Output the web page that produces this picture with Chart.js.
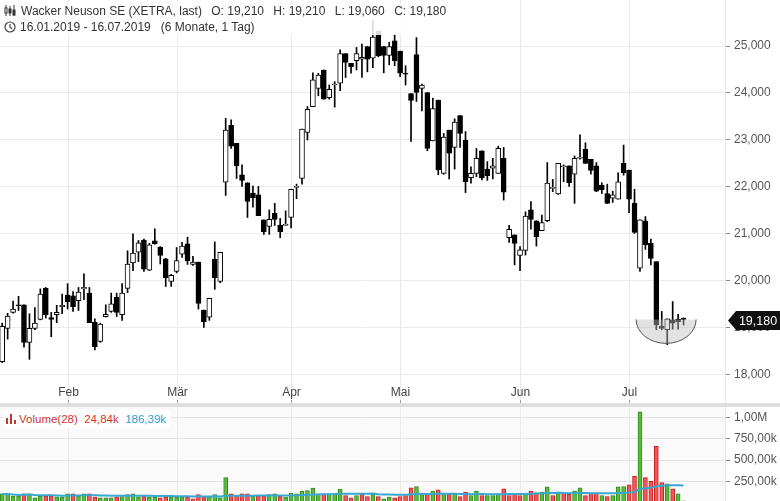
<!DOCTYPE html>
<html><head><meta charset="utf-8">
<script src="https://cdn.jsdelivr.net/npm/chart.js@4.4.1/dist/chart.umd.min.js"></script>
<style>
html,body{margin:0;padding:0;background:#fff;width:780px;height:501px;overflow:hidden;font-family:"Liberation Sans",Arial,sans-serif;}
#pw{position:absolute;left:0;top:0;width:780px;height:403px;}
#sep{position:absolute;left:0;top:403px;width:780px;height:4px;background:#dedede;}
#vw{position:absolute;left:0;top:407px;width:780px;height:96px;}
#hdr{position:absolute;left:4px;top:3px;font-size:12px;color:#333;line-height:16px;background:rgba(255,255,255,0.85);padding-right:4px;}
#hdr span{margin-right:6px}
#vleg{position:absolute;left:4px;top:410px;font-size:11.5px;line-height:18px;background:#fff;padding:0 4px 0 2px;}
#tag{position:absolute;left:728px;top:311px;width:52px;height:19px;}
</style></head><body>
<div id="pw"><canvas id="pc"></canvas></div>
<div id="sep"></div>
<div id="vw"><canvas id="vc"></canvas></div>
<div id="hdr">
<div><svg width="14" height="11" style="vertical-align:-1px;margin-right:3px"><path d="M2 0v11M6 1v10M10 0v11" stroke="#333" stroke-width="1"/><rect x="1" y="3" width="2" height="5" fill="#fff" stroke="#333"/><rect x="5" y="4" width="2" height="4" fill="#333" stroke="#333"/><rect x="9" y="5" width="2" height="5" fill="#333" stroke="#333"/></svg><span>Wacker Neuson SE (XETRA, last)</span> <span>O: 19,210</span> <span>H: 19,210</span> <span>L: 19,060</span> <span>C: 19,180</span></div>
<div><svg width="12" height="12" style="vertical-align:-2px;margin-right:4px"><circle cx="6" cy="6" r="5" fill="none" stroke="#444" stroke-width="1.2"/><path d="M6 3v3.3l2.2 1.5" fill="none" stroke="#444" stroke-width="1.2"/></svg>16.01.2019 - 16.07.2019 &nbsp; (6 Monate, 1 Tag)</div>
</div>
<div id="vleg"><svg width="10" height="10" style="vertical-align:-1px;margin-right:3px"><rect x="0" y="4" width="2" height="6" fill="#c0392b"/><rect x="4" y="0" width="2" height="10" fill="#c0392b"/><rect x="8" y="6" width="2" height="4" fill="#c0392b"/></svg><span style="color:#d0342c">Volume(28) &nbsp;24,84k</span> &nbsp;<span style="color:#2a9fcf">186,39k</span></div>
<svg id="tag" viewBox="0 0 52 19"><path d="M0 9.5L8 0H52V19H8Z" fill="#111"/><text x="30" y="14" fill="#fff" font-size="12.5" text-anchor="middle" font-family="Liberation Sans, Arial">19,180</text></svg>
<script>
const opens=[18280,18990,19330,19490,19490,18690,18990,19180,19840,19220,19280,19450,19700,19680,19580,19830,19740,19120,18710,19240,19350,19650,19280,19840,20380,20610,20870,20230,20850,20720,20470,19990,20200,20570,20790,20350,20400,19380,19230,20460,19990,22100,23310,22930,22260,22090,21870,21830,21300,21160,21440,21190,21180,21350,21990,22180,23160,23710,24100,24490,23900,24170,24210,24840,24630,24690,24720,24990,24740,25320,24990,24800,25110,24890,24420,23990,24820,24100,24010,22980,23850,22290,23210,22840,23520,23000,22200,22290,22770,22380,22400,22290,22610,20920,20980,20540,20650,21510,21280,21070,21280,21970,21850,22430,22450,22270,22610,22800,22590,22450,22040,21860,21760,21740,22500,22360,21650,20270,21280,20800,20410,19030,18960,19170,19180,19210];
const highs=[19100,19310,19570,19670,19490,19300,19430,19830,19860,19330,19480,19720,19940,19770,19860,20150,19860,19190,19100,19490,19740,19740,19940,20640,21000,20860,20890,20800,21110,20730,20480,20140,20710,20820,20930,20520,20400,19380,19630,20830,20610,23460,23430,22930,22470,22090,22020,22010,21300,21510,21650,21330,21490,21950,22060,23230,23710,24430,24420,24490,24170,24240,24920,24840,24630,24970,25040,24990,25540,25320,24990,25080,25260,24890,24580,23990,25180,24190,24010,23890,23850,23140,23210,23450,23520,23180,22430,22820,22770,22540,22610,22870,22840,21180,20980,20730,21470,21690,21280,21400,22520,22160,22500,22470,22450,22660,23110,22940,22590,22520,22090,22060,21910,22300,22890,22360,21950,21300,21370,20890,20410,19350,19190,19560,19290,19210];
const lows=[18260,18760,19310,19370,18590,18330,18960,19170,19210,18810,19110,19300,19400,19350,19370,19600,19110,18530,18690,19230,19330,19240,19160,19750,20220,20410,20200,20220,20780,20360,19880,19880,20170,20500,20350,20330,19400,19010,19160,19820,19960,21820,22820,22180,22010,21350,21570,21390,20990,20990,21180,20920,21180,21130,21750,22060,23000,23710,23940,23870,23870,23700,24050,24330,24420,24490,24330,24450,24540,24770,24430,24600,24580,24350,24170,22970,23820,23620,22770,22980,22260,22270,22170,22380,22840,21880,22080,22220,22150,22140,22170,22290,21720,20820,20340,20220,20550,21100,20740,21070,21260,21900,21840,22110,22010,21650,22590,22500,22270,21900,21860,21650,21670,21740,22250,21450,21010,20200,20670,20340,18960,18960,18640,18970,18970,19060];
const closes=[19030,19250,19400,19470,18690,18990,19100,19720,19280,19180,19330,19480,19550,19450,19760,19860,19110,18600,19080,19290,19510,19330,19740,20360,20590,20810,20250,20770,20790,20540,20070,20120,20430,20740,20430,20400,19520,19130,19630,20070,20610,23210,22870,22450,22140,21690,21770,21390,21050,21310,21310,21050,21190,21950,22010,23230,23650,24280,24380,23870,24080,24190,24840,24650,24560,24840,24760,24720,25190,24790,24800,24990,24690,24420,24400,23840,24010,24170,22820,23670,22360,23060,22720,23380,23140,22110,22290,22610,22190,22240,22450,22820,21890,21100,20800,20660,21380,21310,20940,21240,22080,21990,22500,22440,22090,22610,22630,22500,22350,21910,21940,21650,21830,22110,22300,21740,21030,21300,20770,20480,19060,18990,19190,19100,19130,19180];
const volumesK=[106,106,82,82,106,106,59,82,82,82,70,70,106,106,82,106,106,70,59,59,59,70,76,97,106,70,82,70,70,59,70,70,70,70,70,50,97,70,70,97,59,296,106,82,106,106,82,82,82,97,106,82,70,117,106,135,144,173,106,106,106,106,162,88,61,88,100,76,100,76,49,69,61,76,88,178,193,108,100,139,155,116,100,108,76,127,88,139,88,88,88,108,166,88,108,88,100,139,120,127,190,88,127,116,100,139,178,88,116,116,88,76,88,190,193,213,311,1066,296,253,663,237,225,166,108,25];
const monthIdx=[12,32,53,73,95,115];
const monthNames=['Feb','Mär','Apr','Mai','Jun','Jul'];
const priceTicks=[18000,19000,20000,21000,22000,23000,24000,25000];
const volTicks=[250000,500000,750000,1000000];
const volTickLabels=['250,00k','500,00k','750,00k','1,00M'];
const maPeriod=28;

const XMIN=-0.4, XMAX=132.6;
const wick=[],body=[],bodyCol=[],vol=[],volBg=[],volBd=[],ma=[];
for(let i=0;i<opens.length;i++){
  wick.push({x:i,y:[lows[i],highs[i]]});
  body.push({x:i,y:[opens[i],closes[i]]});
  bodyCol.push(closes[i]>=opens[i]?'#ffffff':'#000000');
  vol.push({x:i,y:volumesK[i]*1000});
  const up=i===0||closes[i]>=closes[i-1];
  volBg.push(up?'#5dbb3a':'#f25757');volBd.push(up?'#2e8b1e':'#c62222');
  let s=0,n=0;for(let j=Math.max(0,i-maPeriod+1);j<=i;j++){s+=volumesK[j]*1000;n++;}
  ma.push({x:i,y:s/n});
}
function fixW(s){s.width=55;s.paddingTop=0;s.paddingBottom=0;}
function xScale(){return {type:'linear',display:false,min:XMIN,max:XMAX,offset:false};}

const bgPlugin={id:'bg',beforeDraw(c,a,o){const ca=c.chartArea,ctx=c.ctx,xs=c.scales.x;ctx.save();ctx.fillStyle=o.color;ctx.fillRect(ca.left,ca.top,ca.right-ca.left,ca.bottom-ca.top);
  ctx.strokeStyle='#ebebeb';ctx.lineWidth=1;monthIdx.forEach(v=>{const px=Math.round(xs.getPixelForValue(v))+0.5;ctx.beginPath();ctx.moveTo(px,ca.top);ctx.lineTo(px,ca.bottom);ctx.stroke();});ctx.restore();}};
const monthPlugin={id:'months',afterDraw(c){const ctx=c.ctx,xs=c.scales.x,ca=c.chartArea;ctx.save();ctx.fillStyle='#444';ctx.font='12px "Liberation Sans", Arial';ctx.textAlign='center';ctx.textBaseline='middle';
  monthIdx.forEach((v,k)=>{const px=Math.round(xs.getPixelForValue(v))+0.5;ctx.fillText(monthNames[k],px,ca.bottom-10);ctx.strokeStyle='#999';ctx.beginPath();ctx.moveTo(px,ca.bottom-3);ctx.lineTo(px,ca.bottom);ctx.stroke();});
  const cx=xs.getPixelForValue(121.8),cy=c.scales.y.getPixelForValue(19180);
  ctx.beginPath();ctx.ellipse(cx,cy,30,24,0,0,Math.PI);ctx.closePath();ctx.fillStyle='rgba(190,190,190,0.45)';ctx.fill();
  ctx.beginPath();ctx.ellipse(cx,cy,30,24,0,0,Math.PI);ctx.strokeStyle='#555';ctx.lineWidth=1;ctx.stroke();
  ctx.restore();}};

new Chart(document.getElementById('pc'),{
  type:'bar',
  data:{datasets:[
    {data:wick,backgroundColor:'#000',barThickness:1,grouped:false,order:2},
    {data:body,backgroundColor:bodyCol,borderColor:'#000',borderWidth:1,borderSkipped:false,barThickness:5,grouped:false,minBarLength:1,order:1}
  ]},
  options:{responsive:true,maintainAspectRatio:false,animation:false,
    layout:{padding:0},
    plugins:{legend:{display:false},tooltip:{enabled:false},bg:{color:'#ffffff'}},
    scales:{x:xScale(),
      y:{position:'right',min:17400,max:25980,afterFit:fixW,
        afterBuildTicks:s=>{s.ticks=priceTicks.map(v=>({value:v}));},
        ticks:{color:'#555',font:{size:12,family:'"Liberation Sans", Arial'},padding:4,callback:v=>v.toLocaleString('en-US')},
        grid:{color:'#ebebeb',tickLength:5,tickColor:'#888'},border:{display:true,color:'#e6e6e6'}}}},
  plugins:[bgPlugin,monthPlugin]
});

new Chart(document.getElementById('vc'),{
  type:'bar',
  data:{datasets:[
    {type:'line',data:ma,borderColor:'#3aa7d3',borderWidth:2,pointRadius:0,tension:0,order:0},
    {data:vol,backgroundColor:volBg,borderColor:volBd,borderWidth:1,borderSkipped:false,barThickness:4,grouped:false,order:1}
  ]},
  options:{responsive:true,maintainAspectRatio:false,animation:false,layout:{padding:0},
    plugins:{legend:{display:false},tooltip:{enabled:false},bg:{color:'#fafafa'}},
    scales:{x:xScale(),
      y:{position:'right',min:0,max:1121000,afterFit:fixW,
        afterBuildTicks:s=>{s.ticks=volTicks.map(v=>({value:v}));},
        ticks:{color:'#555',font:{size:12,family:'"Liberation Sans", Arial'},padding:4,callback:(v)=>volTickLabels[volTicks.indexOf(v)]||''},
        grid:{color:'#e3e3e3',tickLength:5,tickColor:'#888'},border:{display:true,color:'#e6e6e6'}}}},
  plugins:[bgPlugin]
});
</script></body></html>
